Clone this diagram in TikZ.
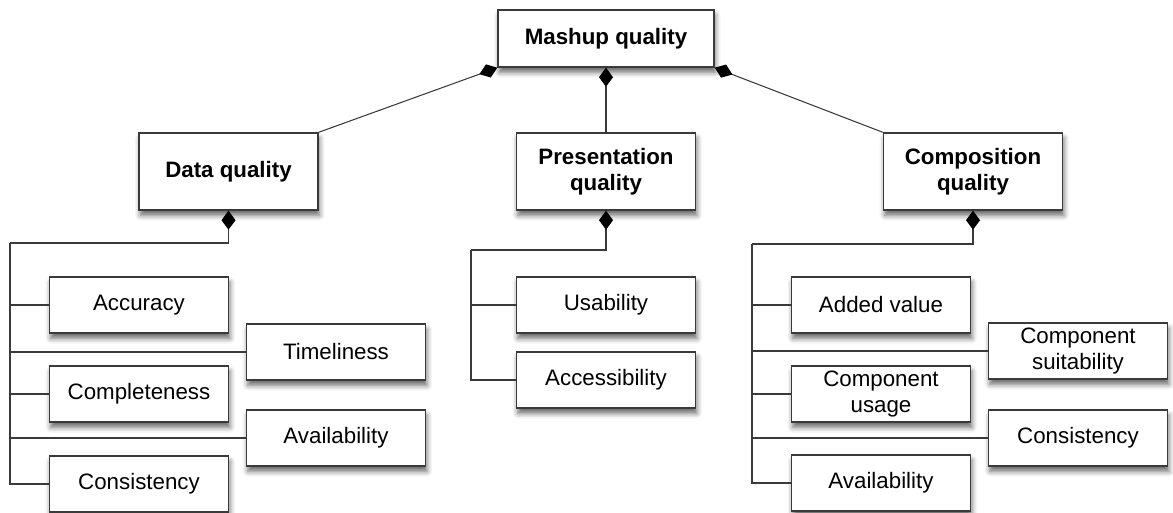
\documentclass[tikz,border=0pt]{standalone}
\usepackage{fontspec}
\setsansfont{Liberation Sans}
\usepackage{tikz}
\usetikzlibrary{arrows.meta,shadows.blur}
\definecolor{edge}{HTML}{3A3A3A}
\tikzset{
  box/.style     ={rectangle, draw=edge, fill=white, line width=0.8pt, inner sep=1pt,
                   font=\sffamily\fontsize{12.7}{14.5}\selectfont, align=center,
                   blur shadow={shadow xshift=0.8pt, shadow yshift=-3pt, shadow blur radius=3pt, shadow opacity=60}},
  rootbox/.style ={box, minimum width=43.2mm, minimum height=11.4mm, font=\sffamily\bfseries\fontsize{12.7}{14.5}\selectfont},
  catbox/.style  ={box, minimum width=35.8mm, minimum height=15.4mm, font=\sffamily\bfseries\fontsize{12.7}{14.5}\selectfont},
  qbox/.style    ={box, minimum width=35.8mm, minimum height=11.2mm},
  link/.style    ={line width=0.6pt, draw=edge},
  compose/.style ={{Diamond[length=3.8mm,width=2.8mm,fill=black,color=black]}-, line width=0.6pt, draw=edge},
}
\begin{document}
\begin{tikzpicture}[x=0.2mm, y=-0.2mm]
\useasboundingbox (0,0) rectangle (1173,513);
% ---- root and the three aspects
\node[rootbox] (mashup) at (606,38.5) {Mashup quality};
\node[catbox] (data) at (228.5,171.5) {Data quality};
\node[catbox] (pres) at (606,171.5) {Presentation\\quality};
\node[catbox] (comp) at (973,171.5) {Composition\\quality};

\draw[compose] (mashup.south west) -- (data.north east);
\draw[compose] (mashup.south) -- (pres.north);
\draw[compose] (mashup.south east) -- (comp.north west);

% ---- data quality
\node[qbox] (acc)   at (139,305) {Accuracy};
\node[qbox] (time)  at (336,352) {Timeliness};
\node[qbox] (compl) at (139,394) {Completeness};
\node[qbox] (avail) at (336,438) {Availability};
\node[qbox] (cons)  at (139,484) {Consistency};
\coordinate (dbus) at (10,243);
\draw[compose] (data.south) |- (dbus);
\foreach \n in {acc,time,compl,avail,cons}
  \draw[link] (dbus) |- (\n.west);

% ---- presentation quality
\node[qbox] (usab)   at (606,305) {Usability};
\node[qbox] (access) at (606,380) {Accessibility};
\coordinate (pbus) at (471,250);
\draw[compose] (pres.south) |- (pbus);
\foreach \n in {usab,access}
  \draw[link] (pbus) |- (\n.west);

% ---- composition quality
\node[qbox] (added)  at (881,305) {Added value};
\node[qbox] (suit)   at (1078,351) {Component\\suitability};
\node[qbox] (usage)  at (881,394) {Component\\usage};
\node[qbox] (ccons)  at (1078,438) {Consistency};
\node[qbox] (cavail) at (881,483) {Availability};
\coordinate (cbus) at (752,244);
\draw[compose] (comp.south) |- (cbus);
\foreach \n in {added,suit,usage,ccons,cavail}
  \draw[link] (cbus) |- (\n.west);
\end{tikzpicture}
\end{document}
